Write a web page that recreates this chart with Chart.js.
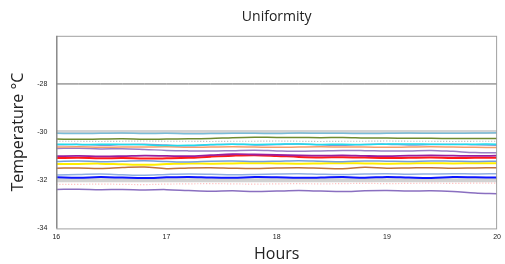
<!DOCTYPE html>
<html>
<head>
<meta charset="utf-8">
<script src="https://cdn.jsdelivr.net/npm/chart.js@4.4.0/dist/chart.umd.min.js"></script>
<style>
  html, body { margin: 0; padding: 0; background: #fff; }
  #wrap { width: 505px; height: 264px; }
</style>
</head>
<body>
<div id="wrap"><canvas id="uniformity"></canvas></div>
<script>
// hours on the x axis
const hours = [16, 16.2, 16.4, 16.6, 16.8, 17, 17.2, 17.4, 17.6, 17.8, 18, 18.2, 18.4, 18.6, 18.8, 19, 19.2, 19.4, 19.6, 19.8, 20];
const yTicks = [-34, -32, -30, -28];
const xTicks = [16, 17, 18, 19, 20];

// limit bands
const upperLimit = [-30, -30, -30, -30, -30, -30, -30, -30, -30, -30, -30, -30, -30, -30, -30, -30, -30, -30, -30, -30, -30];
const lowerLimit = [-32, -32, -32, -32, -32, -32, -32, -32, -32, -32, -32, -32, -32, -32, -32, -32, -32, -32, -32, -32, -32];
const refLine = [-28, -28, -28, -28, -28, -28, -28, -28, -28, -28, -28, -28, -28, -28, -28, -28, -28, -28, -28, -28, -28];

// probe readings (°C)
const t01 = [-30.05, -30.06, -30.05, -30.04, -30.06, -30.05, -30.07, -30.06, -30.05, -30.05, -30.06, -30.04, -30.05, -30.05, -30.06, -30.05, -30.04, -30.05, -30.05, -30.04, -30.03];
const t02 = [-30.29, -30.3, -30.29, -30.28, -30.3, -30.29, -30.28, -30.27, -30.23, -30.21, -30.22, -30.22, -30.23, -30.22, -30.24, -30.25, -30.26, -30.26, -30.27, -30.27, -30.27];
const t03 = [-30.38, -30.38, -30.39, -30.38, -30.37, -30.38, -30.38, -30.39, -30.38, -30.38, -30.37, -30.38, -30.39, -30.38, -30.38, -30.37, -30.38, -30.38, -30.39, -30.38, -30.38];
const t04 = [-30.5, -30.52, -30.5, -30.51, -30.53, -30.56, -30.55, -30.52, -30.5, -30.51, -30.5, -30.49, -30.51, -30.5, -30.52, -30.5, -30.49, -30.5, -30.51, -30.5, -30.5];
const t05 = [-30.53, -30.51, -30.55, -30.52, -30.5, -30.54, -30.57, -30.53, -30.5, -30.54, -30.52, -30.49, -30.53, -30.55, -30.51, -30.5, -30.54, -30.52, -30.5, -30.53, -30.55];
const t06 = [-30.62, -30.61, -30.63, -30.62, -30.62, -30.61, -30.63, -30.62, -30.61, -30.62, -30.63, -30.62, -30.61, -30.62, -30.62, -30.63, -30.62, -30.61, -30.62, -30.63, -30.64];
const t07 = [-30.68, -30.67, -30.7, -30.69, -30.72, -30.76, -30.78, -30.79, -30.77, -30.75, -30.78, -30.8, -30.78, -30.76, -30.77, -30.79, -30.78, -30.76, -30.8, -30.85, -30.86];
const t08 = [-31.0, -30.99, -31.01, -31.0, -30.98, -30.99, -31.0, -30.96, -30.92, -30.93, -30.95, -30.97, -30.98, -30.97, -30.99, -31.0, -30.98, -30.97, -30.98, -30.99, -30.98];
const t09 = [-31.08, -31.07, -31.09, -31.08, -31.1, -31.09, -31.07, -31.02, -30.98, -30.96, -30.99, -31.03, -31.05, -31.04, -31.06, -31.08, -31.07, -31.06, -31.08, -31.07, -31.07];
const t10 = [-31.22, -31.2, -31.23, -31.21, -31.19, -31.22, -31.24, -31.21, -31.2, -31.22, -31.21, -31.19, -31.21, -31.23, -31.2, -31.21, -31.22, -31.2, -31.21, -31.22, -31.21];
const t11 = [-31.33, -31.32, -31.31, -31.34, -31.36, -31.33, -31.3, -31.31, -31.3, -31.29, -31.3, -31.31, -31.3, -31.29, -31.3, -31.31, -31.3, -31.29, -31.3, -31.29, -31.29];
const t12 = [-31.5, -31.49, -31.51, -31.47, -31.45, -31.52, -31.49, -31.48, -31.5, -31.51, -31.49, -31.48, -31.5, -31.52, -31.46, -31.5, -31.49, -31.48, -31.5, -31.49, -31.48];
const t13 = [-31.78, -31.76, -31.74, -31.77, -31.79, -31.76, -31.74, -31.75, -31.77, -31.76, -31.74, -31.73, -31.75, -31.76, -31.74, -31.73, -31.75, -31.74, -31.73, -31.74, -31.73];
const t14 = [-31.88, -31.9, -31.87, -31.89, -31.91, -31.88, -31.86, -31.89, -31.9, -31.87, -31.88, -31.9, -31.89, -31.87, -31.9, -31.86, -31.89, -31.91, -31.87, -31.88, -31.89];
const t15 = [-32.17, -32.17, -32.16, -32.17, -32.18, -32.16, -32.15, -32.14, -32.15, -32.16, -32.15, -32.14, -32.15, -32.14, -32.13, -32.14, -32.13, -32.12, -32.13, -32.12, -32.12];
const t16 = [-32.38, -32.37, -32.39, -32.38, -32.4, -32.39, -32.43, -32.46, -32.44, -32.47, -32.45, -32.43, -32.45, -32.47, -32.44, -32.43, -32.45, -32.44, -32.47, -32.53, -32.56];

function pts(arr) {
  return arr.map((v, i) => ({ x: hours[i], y: v }));
}

function line(data, color, width, dash) {
  return {
    data: pts(data),
    borderColor: color,
    borderWidth: width,
    borderDash: dash || [],
    pointRadius: 0,
    tension: 0.35,
    fill: false
  };
}

const datasets = [
  line(t01, "#79bcd8", 1.5),
  line(t02, "#6e8b2f", 1.5),
  line(t03, "#b0b0b0", 1.2, [1, 2]),
  line(t04, "#1fdcec", 1.5),
  line(t05, "#7d9fd8", 1.5),
  line(t06, "#f5a06a", 1.5),
  line(t07, "#9a80c6", 1.5),
  line(t08, "#9a1f9e", 1.8),
  line(t09, "#ff1a1a", 2),
  line(t10, "#739fdc", 1.5),
  line(t11, "#ffee00", 2),
  line(t12, "#c2743a", 1.5),
  line(t13, "#8eaee2", 1.5),
  line(t14, "#0a14ff", 2),
  line(t15, "#ffb0b0", 1.2, [1, 2]),
  line(t16, "#8a6fc0", 1.5),
  Object.assign(line(upperLimit, "#d2d2d2", 4), { order: 10, tension: 0 }),
  Object.assign(line(lowerLimit, "#d2d2d2", 4), { order: 10, tension: 0 }),
  Object.assign(line(refLine, "#666666", 1), { order: 10, tension: 0 })
];

const frame = {
  id: "frame",
  afterDatasetsDraw(chart) {
    const a = chart.chartArea;
    const c = chart.ctx;
    c.save();
    c.strokeStyle = "#a0a0a0";
    c.lineWidth = 1;
    c.strokeRect(a.left + 0.5, a.top + 0.5, a.right - a.left - 1, a.bottom - a.top);
    c.strokeStyle = "#777";
    c.beginPath();
    c.moveTo(a.left + 0.5, a.top);
    c.lineTo(a.left + 0.5, a.bottom);
    c.stroke();
    c.restore();
  }
};

new Chart(document.getElementById("uniformity"), {
  type: "line",
  data: { datasets: datasets },
  plugins: [frame],
  options: {
    responsive: true,
    maintainAspectRatio: false,
    animation: false,
    layout: { padding: { left: 9, right: 4, top: 4, bottom: 0 } },
    plugins: {
      legend: { display: false },
      tooltip: { enabled: false },
      title: {
        display: true,
        text: "Uniformity",
        fullSize: false,
        color: "#222",
        font: { family: "Open Sans", size: 14, weight: "normal" },
        padding: { top: 5, bottom: 10 }
      }
    },
    scales: {
      x: {
        type: "linear",
        min: 16,
        max: 20,
        afterBuildTicks: (axis) => { axis.ticks = xTicks.map(v => ({ value: v })); },
        grid: { display: false, drawTicks: false },
        border: { display: false },
        ticks: { color: "#222", font: { family: "Liberation Sans", size: 7 }, padding: 4, maxRotation: 0 },
        title: {
          display: true,
          text: "Hours",
          color: "#222",
          font: { family: "Open Sans", size: 16 },
          padding: { top: 0, bottom: 0 }
        }
      },
      y: {
        min: -34,
        max: -26,
        afterBuildTicks: (axis) => { axis.ticks = yTicks.map(v => ({ value: v })); },
        grid: { display: false, drawTicks: false },
        border: { display: false },
        ticks: { color: "#222", font: { family: "Liberation Sans", size: 7 }, padding: 9 },
        title: {
          display: true,
          text: "Temperature °C",
          color: "#222",
          font: { family: "Open Sans", size: 16 },
          padding: { top: 0, bottom: 0 }
        }
      }
    }
  }
});
</script>
</body>
</html>
